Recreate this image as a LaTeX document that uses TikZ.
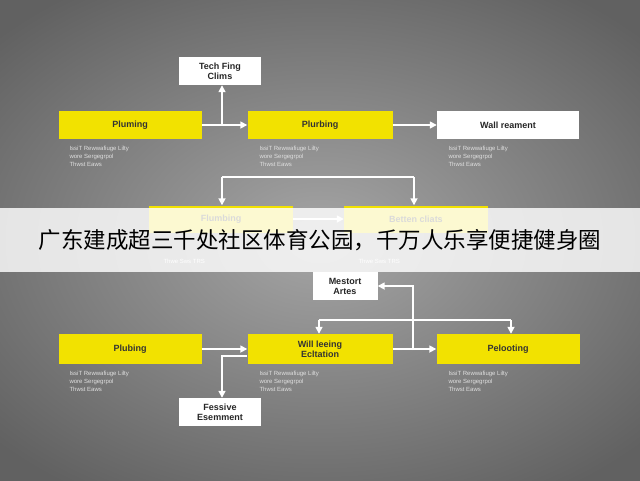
\documentclass[tikz,border=0pt]{standalone}
\usepackage{fontspec}
\setmainfont{Liberation Sans}
\newfontfamily\cjk{Noto Sans CJK SC}
\usetikzlibrary{arrows.meta}
\definecolor{yel}{HTML}{F2E200}
\begin{document}
\begin{tikzpicture}[x=1pt,y=-1pt,
  yb/.style={fill=yel,draw=none,font=\fontsize{9}{10}\selectfont\bfseries,text=black!80},
  wb/.style={fill=white,draw=none,font=\fontsize{9}{10}\selectfont\bfseries,text=black!85,align=center},
  ar/.style={draw=white,line width=1.6pt,-{Triangle[length=7pt,width=7pt]}},
  ln/.style={draw=white,line width=1.6pt},
  sub/.style={anchor=north west,font=\fontsize{6}{8}\selectfont,text=black!12,align=left}]
\useasboundingbox (0,0) rectangle (640,480);
\shade[inner color=black!35,outer color=black!62] (-120,-60) rectangle (760,540);
% row 1
\node[wb,minimum width=82pt,minimum height=28pt] (tech) at (220,71) {Tech Fing\\Clims};
\node[yb,minimum width=143pt,minimum height=28pt] (a1) at (130,125) {Pluming};
\node[yb,minimum width=145pt,minimum height=28pt] (a2) at (320,125) {Plurbing};
\node[wb,minimum width=142pt,minimum height=28pt] (a3) at (508,125) {Wall reament};
\foreach \n/\xx in {a1/66,a2/256,a3/445}{
 \node[sub] (\n s) at (\xx,143) {IssiT Rewwafiuge Lilty\\wore Sergegrpol\\Thwst Eaws};}
\coordinate (j1) at (222,125);
\draw[ar] (a1) -- (a2);
\draw[ar] (j1) -- (tech.south -| j1);
\draw[ar] (a2) -- (a3);
% row 2
\node[yb,minimum width=144pt,minimum height=27pt] (c1) at (221,219) {Flumbing};
\node[yb,minimum width=144pt,minimum height=27pt] (c2) at (416,219) {Betten cliats};
\coordinate (k1) at (222,177); \coordinate (k2) at (414,177);
\draw[ln] (k1) -- (k2);
\draw[ar] (k1) -- (c1.north -| k1);
\draw[ar] (k2) -- (c2.north -| k2);
\draw[ar] (c1) -- (c2);
% banner
\fill[white,opacity=0.82] (0,208) rectangle (640,272);
\node[font=\cjk\fontsize{22.5}{24}\selectfont,text=black] (ban) at (320,240) {广东建成超三千处社区体育公园，千万人乐享便捷健身圈};
\node[sub,text=white] (c1s) at (160,256) {Thwe Sws TRS};
\node[sub,text=white] (c2s) at (355,256) {Thwe Sws TRS};
% row 3
\node[wb,minimum width=65pt,minimum height=28pt] (mes) at (345,286) {Mestort\\Artes};
\node[yb,minimum width=143pt,minimum height=30pt] (b1) at (130,349) {Plubing};
\node[yb,minimum width=145pt,minimum height=30pt,align=center] (b2) at (320,349) {Will leeing\\Ecltation};
\node[yb,minimum width=143pt,minimum height=30pt] (b3) at (508,349) {Pelooting};
\node[wb,minimum width=82pt,minimum height=28pt] (fes) at (220,412) {Fessive\\Esemment};
\foreach \n/\xx in {b1/66,b2/256,b3/445}{
 \node[sub] (\n s) at (\xx,368) {IssiT Rewwafiuge Lilty\\wore Sergegrpol\\Thwst Eaws};}
\draw[ar] (b1) -- (b2);
\draw[ar] (b2) -- (b3);
\coordinate (m1) at (413,350); \coordinate (m2) at (413,286);
\draw[ar] (m1) -- (m2) -- (mes.east);
\coordinate (l1) at (319,320); \coordinate (l2) at (511,320);
\draw[ln] (l1) -- (l2);
\draw[ar] (l1) -- (b2.north -| l1);
\draw[ar] (l2) -- (b3.north -| l2);
\coordinate (f1) at (247,356); \coordinate (f2) at (222,356);
\draw[ar] (f1) -- (f2) -- (fes.north -| f2);
\end{tikzpicture}
\end{document}
